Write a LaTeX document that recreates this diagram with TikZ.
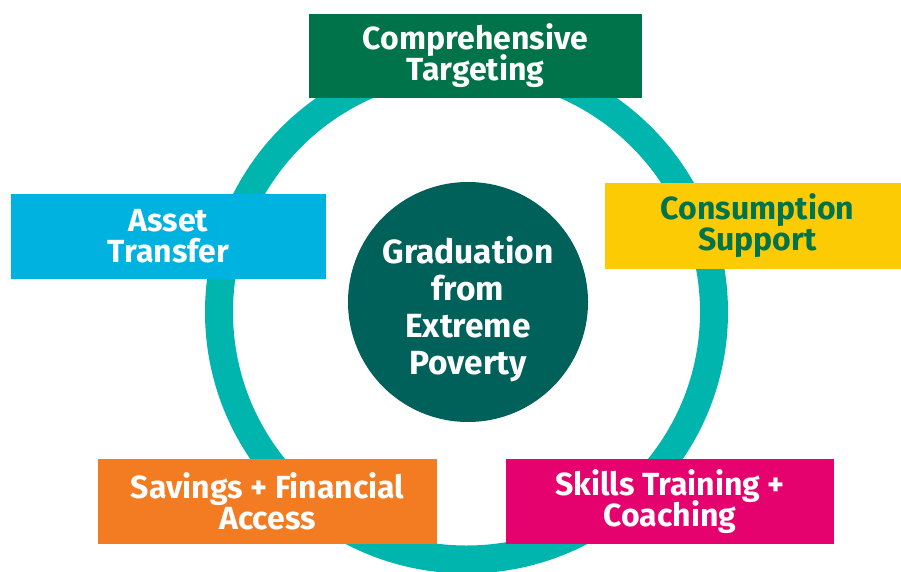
\documentclass[tikz,border=0pt]{standalone}
\usepackage{fontspec}
\setmainfont{Fira Sans}
\setlength{\lineskiplimit}{-20pt}
\definecolor{ringteal}{HTML}{00B5AD}
\definecolor{coregreen}{HTML}{00605A}
\definecolor{targetgreen}{HTML}{00734A}
\definecolor{assetblue}{HTML}{00B2E0}
\definecolor{consyellow}{HTML}{FDCB04}
\definecolor{saveorange}{HTML}{F37B22}
\definecolor{skillpink}{HTML}{E5026F}
\begin{document}
\begin{tikzpicture}[x=1pt, y=-1pt,
		stage/.style={rectangle, inner sep=0pt, align=center, text=white,
			font=\fontsize{32}{31}\selectfont\bfseries},
		core/.style={circle, fill=coregreen, minimum size=240pt, inner sep=0pt, align=center,
			text=white, font=\fontsize{33.5}{37}\selectfont\bfseries}]
		\useasboundingbox (0,0) rectangle (901,572);
		% the cycle
		\draw[line width=28pt, color=ringteal] (466.5,312) circle (247.5);
		\node[core] (grad) at (468,302) {\rule{0pt}{42pt}Graduation\\from\\Extreme\\Poverty};
		% the five stages
		\node[stage, fill=targetgreen, minimum width=333pt, minimum height=84pt] (target) at (475.5,56) {Comprehensive\\Targeting};
		\node[stage, fill=consyellow, text=targetgreen, minimum width=296pt, minimum height=86pt] (consume) at (753,226) {\hspace*{9pt}Consumption\\\hspace*{9pt}Support};
		\node[stage, fill=skillpink, minimum width=328pt, minimum height=85pt] (skills) at (670,501.5) {Skills Training +\\Coaching};
		\node[stage, fill=saveorange, minimum width=339pt, minimum height=85pt] (savings) at (267.5,501.5) {Savings + Financial\\Access};
		\node[stage, fill=assetblue, minimum width=315pt, minimum height=85pt] (asset) at (168.5,236.5) {Asset\\Transfer};
\end{tikzpicture}
\end{document}
